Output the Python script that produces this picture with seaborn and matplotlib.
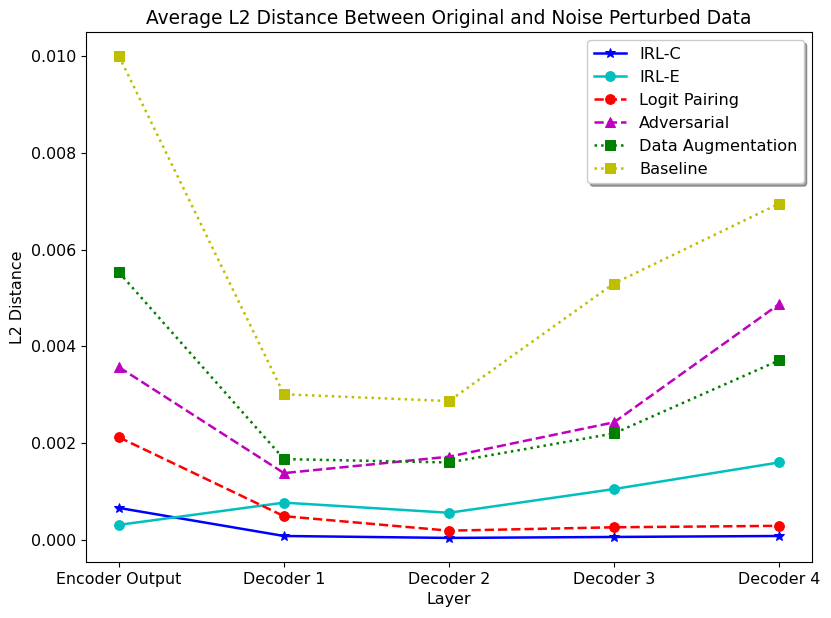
import numpy as np
import pandas as pd
import matplotlib
matplotlib.use("Agg")
import matplotlib.pyplot as plt
import seaborn as sns

# Data
layers = ["Encoder Output", "Decoder 1", "Decoder 2", "Decoder 3", "Decoder 4"]
irl_c = [0.00066, 0.00008, 0.00004, 0.00006, 0.00008]
irl_e = [0.00031, 0.00077, 0.00056, 0.00105, 0.00160]
logit_pairing = [0.00212, 0.00049, 0.00019, 0.00026, 0.00029]
adversarial = [0.00357, 0.00138, 0.00172, 0.00243, 0.00487]
data_augmentation = [0.00553, 0.00167, 0.00160, 0.00220, 0.00371]
baseline = [0.01000, 0.00301, 0.00287, 0.00530, 0.00695]

series = [
    ("IRL-C", irl_c, "b", "*", "-"),
    ("IRL-E", irl_e, "c", "o", "-"),
    ("Logit Pairing", logit_pairing, "r", "o", "--"),
    ("Adversarial", adversarial, "m", "^", "--"),
    ("Data Augmentation", data_augmentation, "g", "s", ":"),
    ("Baseline", baseline, "y", "s", ":"),
]

fig, ax = plt.subplots(figsize=(8.31, 6.18), dpi=100)

x = np.arange(len(layers))
for name, vals, col, mk, ls in series:
    sns.lineplot(x=x, y=vals, ax=ax, color=col, marker=mk, linestyle=ls,
                 markersize=7, markeredgecolor=col, linewidth=1.8, label=name)

ax.set_xticks(x)
ax.set_xticklabels(layers, fontsize=11.4)
ax.tick_params(axis="y", labelsize=11.4)
ax.set_xlabel("Layer", fontsize=11.4)
ax.set_ylabel("L2 Distance", fontsize=11.4)
ax.set_title("Average L2 Distance Between Original and Noise Perturbed Data", fontsize=13.4)
ax.margins(x=0.05, y=0.05)
ax.legend(loc="upper right", shadow=True, fancybox=True, fontsize=11.6)

plt.subplots_adjust(left=0.1035, right=0.977, top=0.948, bottom=0.0906)
plt.savefig("out.png", dpi=100)
